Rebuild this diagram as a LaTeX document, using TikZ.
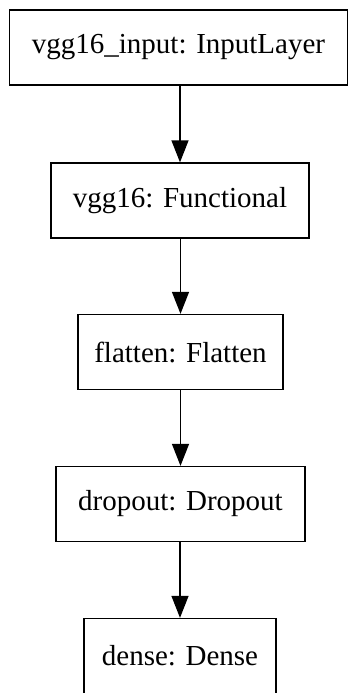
\documentclass[tikz,border=0pt]{standalone}
\usepackage{fontspec}
\setmainfont{Liberation Serif}
\usetikzlibrary{arrows.meta}
\tikzset{
	layerBox/.style={draw, line width=1.3pt, inner sep=0pt, minimum height=75pt, font=\fontsize{29}{34}\selectfont},
	layerLink/.style={-{Triangle[length=22pt,width=17pt]}, line width=1.3pt}
}
\newcommand{\drawLayerLink}[2]{
	\draw[layerLink] (#2.north |- #1.south) -- (#2.north);
}

\begin{document}
\begin{tikzpicture}[x=1pt, y=1pt]
		\useasboundingbox (0,0) rectangle (348,-693);

		\node[layerBox, minimum width=338pt] (vgg16_input) at (178.5,-47.5) {vgg16\_input: InputLayer};
		\node[layerBox, minimum width=258pt] (vgg16) at (180,-200.5) {vgg16: Functional};
		\node[layerBox, minimum width=205pt] (flatten) at (180.5,-352) {flatten: Flatten};
		\node[layerBox, minimum width=249pt] (dropout) at (180.5,-504) {dropout: Dropout};
		\node[layerBox, minimum width=192pt] (dense) at (180,-656) {dense: Dense};

		\drawLayerLink{vgg16_input}{vgg16}
		\drawLayerLink{vgg16}{flatten}
		\drawLayerLink{flatten}{dropout}
		\drawLayerLink{dropout}{dense}

	\end{tikzpicture}
\end{document}
